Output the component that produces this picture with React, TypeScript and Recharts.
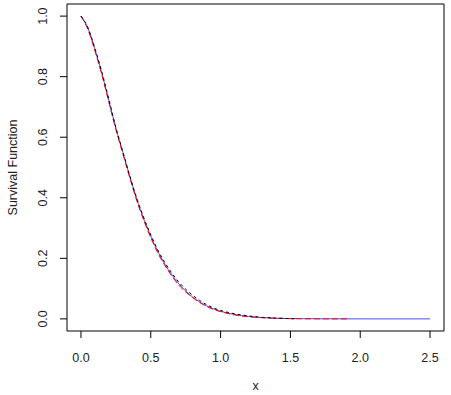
import React from "react";
import { LineChart, Line, XAxis, YAxis, ReferenceArea } from "recharts";

const blueX = [0, 0.05, 0.1, 0.15, 0.2, 0.25, 0.3, 0.35, 0.4, 0.45, 0.5, 0.55, 0.6, 0.65, 0.7, 0.75, 0.8, 0.85, 0.9, 0.95, 1.0, 1.1, 1.2, 1.3, 1.4, 1.5, 1.6, 1.75, 2.0, 2.25, 2.5];
const blueS = [1, 0.96, 0.89, 0.81, 0.72, 0.63, 0.55, 0.47, 0.395, 0.33, 0.273, 0.223, 0.181, 0.146, 0.116, 0.092, 0.072, 0.056, 0.043, 0.033, 0.025, 0.0145, 0.008, 0.0043, 0.0022, 0.001, 0.0005, 0.0002, 0, 0, 0];

const redX = [0, 0.05, 0.1, 0.15, 0.2, 0.25, 0.3, 0.35, 0.4, 0.45, 0.5, 0.55, 0.6, 0.65, 0.7, 0.75, 0.8, 0.85, 0.9, 0.95, 1.0, 1.1, 1.2, 1.3, 1.4, 1.5, 1.6, 1.75, 1.92];
const redS = [1, 0.955, 0.885, 0.805, 0.715, 0.625, 0.545, 0.465, 0.39, 0.325, 0.268, 0.218, 0.177, 0.142, 0.112, 0.089, 0.07, 0.054, 0.041, 0.031, 0.024, 0.013, 0.007, 0.0038, 0.002, 0.001, 0.0005, 0.0002, 0.0001];

const blackX = [0, 0.05, 0.1, 0.15, 0.2, 0.25, 0.3, 0.35, 0.4, 0.45, 0.5, 0.55, 0.6, 0.65, 0.7, 0.75, 0.8, 0.85, 0.9, 0.95, 1.0, 1.1, 1.2, 1.3, 1.4, 1.5, 1.55];
const blackS = [1, 0.962, 0.893, 0.815, 0.725, 0.632, 0.552, 0.472, 0.398, 0.334, 0.278, 0.228, 0.187, 0.152, 0.122, 0.098, 0.078, 0.061, 0.047, 0.036, 0.028, 0.017, 0.01, 0.005, 0.0025, 0.0008, 0];

const xTicks = [0, 0.5, 1.0, 1.5, 2.0, 2.5];
const yTicks = [0, 0.2, 0.4, 0.6, 0.8, 1.0];

const xTitle = "x";
const yTitle = "Survival Function";

const toData = (xs: number[], ys: number[]) => xs.map((x, i) => ({ x, s: ys[i] }));

const FONT = "'Liberation Sans', Arial, sans-serif";

const XTick = (props: any) => {
  const { x, payload } = props;
  return (
    <text x={x} y={362} textAnchor="middle" fontSize={12.5} fontFamily={FONT} fill="#222">
      {payload.value.toFixed(1)}
    </text>
  );
};

const YTick = (props: any) => {
  const { y, payload } = props;
  return (
    <text
      x={47}
      y={y}
      transform={`rotate(-90, 47, ${y})`}
      textAnchor="middle"
      fontSize={12.5}
      fontFamily={FONT}
      fill="#222"
    >
      {payload.value.toFixed(1)}
    </text>
  );
};

export default function App() {
  return (
    <div style={{ position: "absolute", left: 0, top: 0, width: 451, height: 395, background: "#fff" }}>
      <LineChart width={451} height={395} margin={{ top: 4, right: 7, bottom: 0, left: 0 }}>
        <XAxis
          type="number"
          dataKey="x"
          domain={[-0.1, 2.6]}
          ticks={xTicks}
          allowDataOverflow
          height={64}
          axisLine={false}
          tickLine={{ stroke: "#000" }}
          tickSize={7}
          tick={<XTick />}
          interval={0}
        />
        <YAxis
          type="number"
          dataKey="s"
          domain={[-0.04, 1.04]}
          ticks={yTicks}
          allowDataOverflow
          width={67}
          axisLine={false}
          tickLine={{ stroke: "#000" }}
          tickSize={7}
          tick={<YTick />}
          interval={0}
        />
        <ReferenceArea x1={-0.1} x2={2.6} y1={-0.04} y2={1.04} fill="none" stroke="#000" strokeWidth={1} ifOverflow="visible" />
        <Line data={toData(blueX, blueS)} dataKey="s" type="monotone" stroke="#4b4bff" strokeWidth={1} dot={false} isAnimationActive={false} />
        <Line data={toData(redX, redS)} dataKey="s" type="monotone" stroke="#ff0000" strokeWidth={1} strokeDasharray="6 3" dot={false} isAnimationActive={false} />
        <Line data={toData(blackX, blackS)} dataKey="s" type="monotone" stroke="#000" strokeWidth={1} strokeDasharray="3 3" dot={false} isAnimationActive={false} />
        <text x={255.5} y={390} textAnchor="middle" fontSize={12.5} fontFamily={FONT} fill="#222">{xTitle}</text>
        <text x={17} y={167.5} transform="rotate(-90, 17, 167.5)" textAnchor="middle" fontSize={12.5} fontFamily={FONT} fill="#222">{yTitle}</text>
      </LineChart>
    </div>
  );
}
